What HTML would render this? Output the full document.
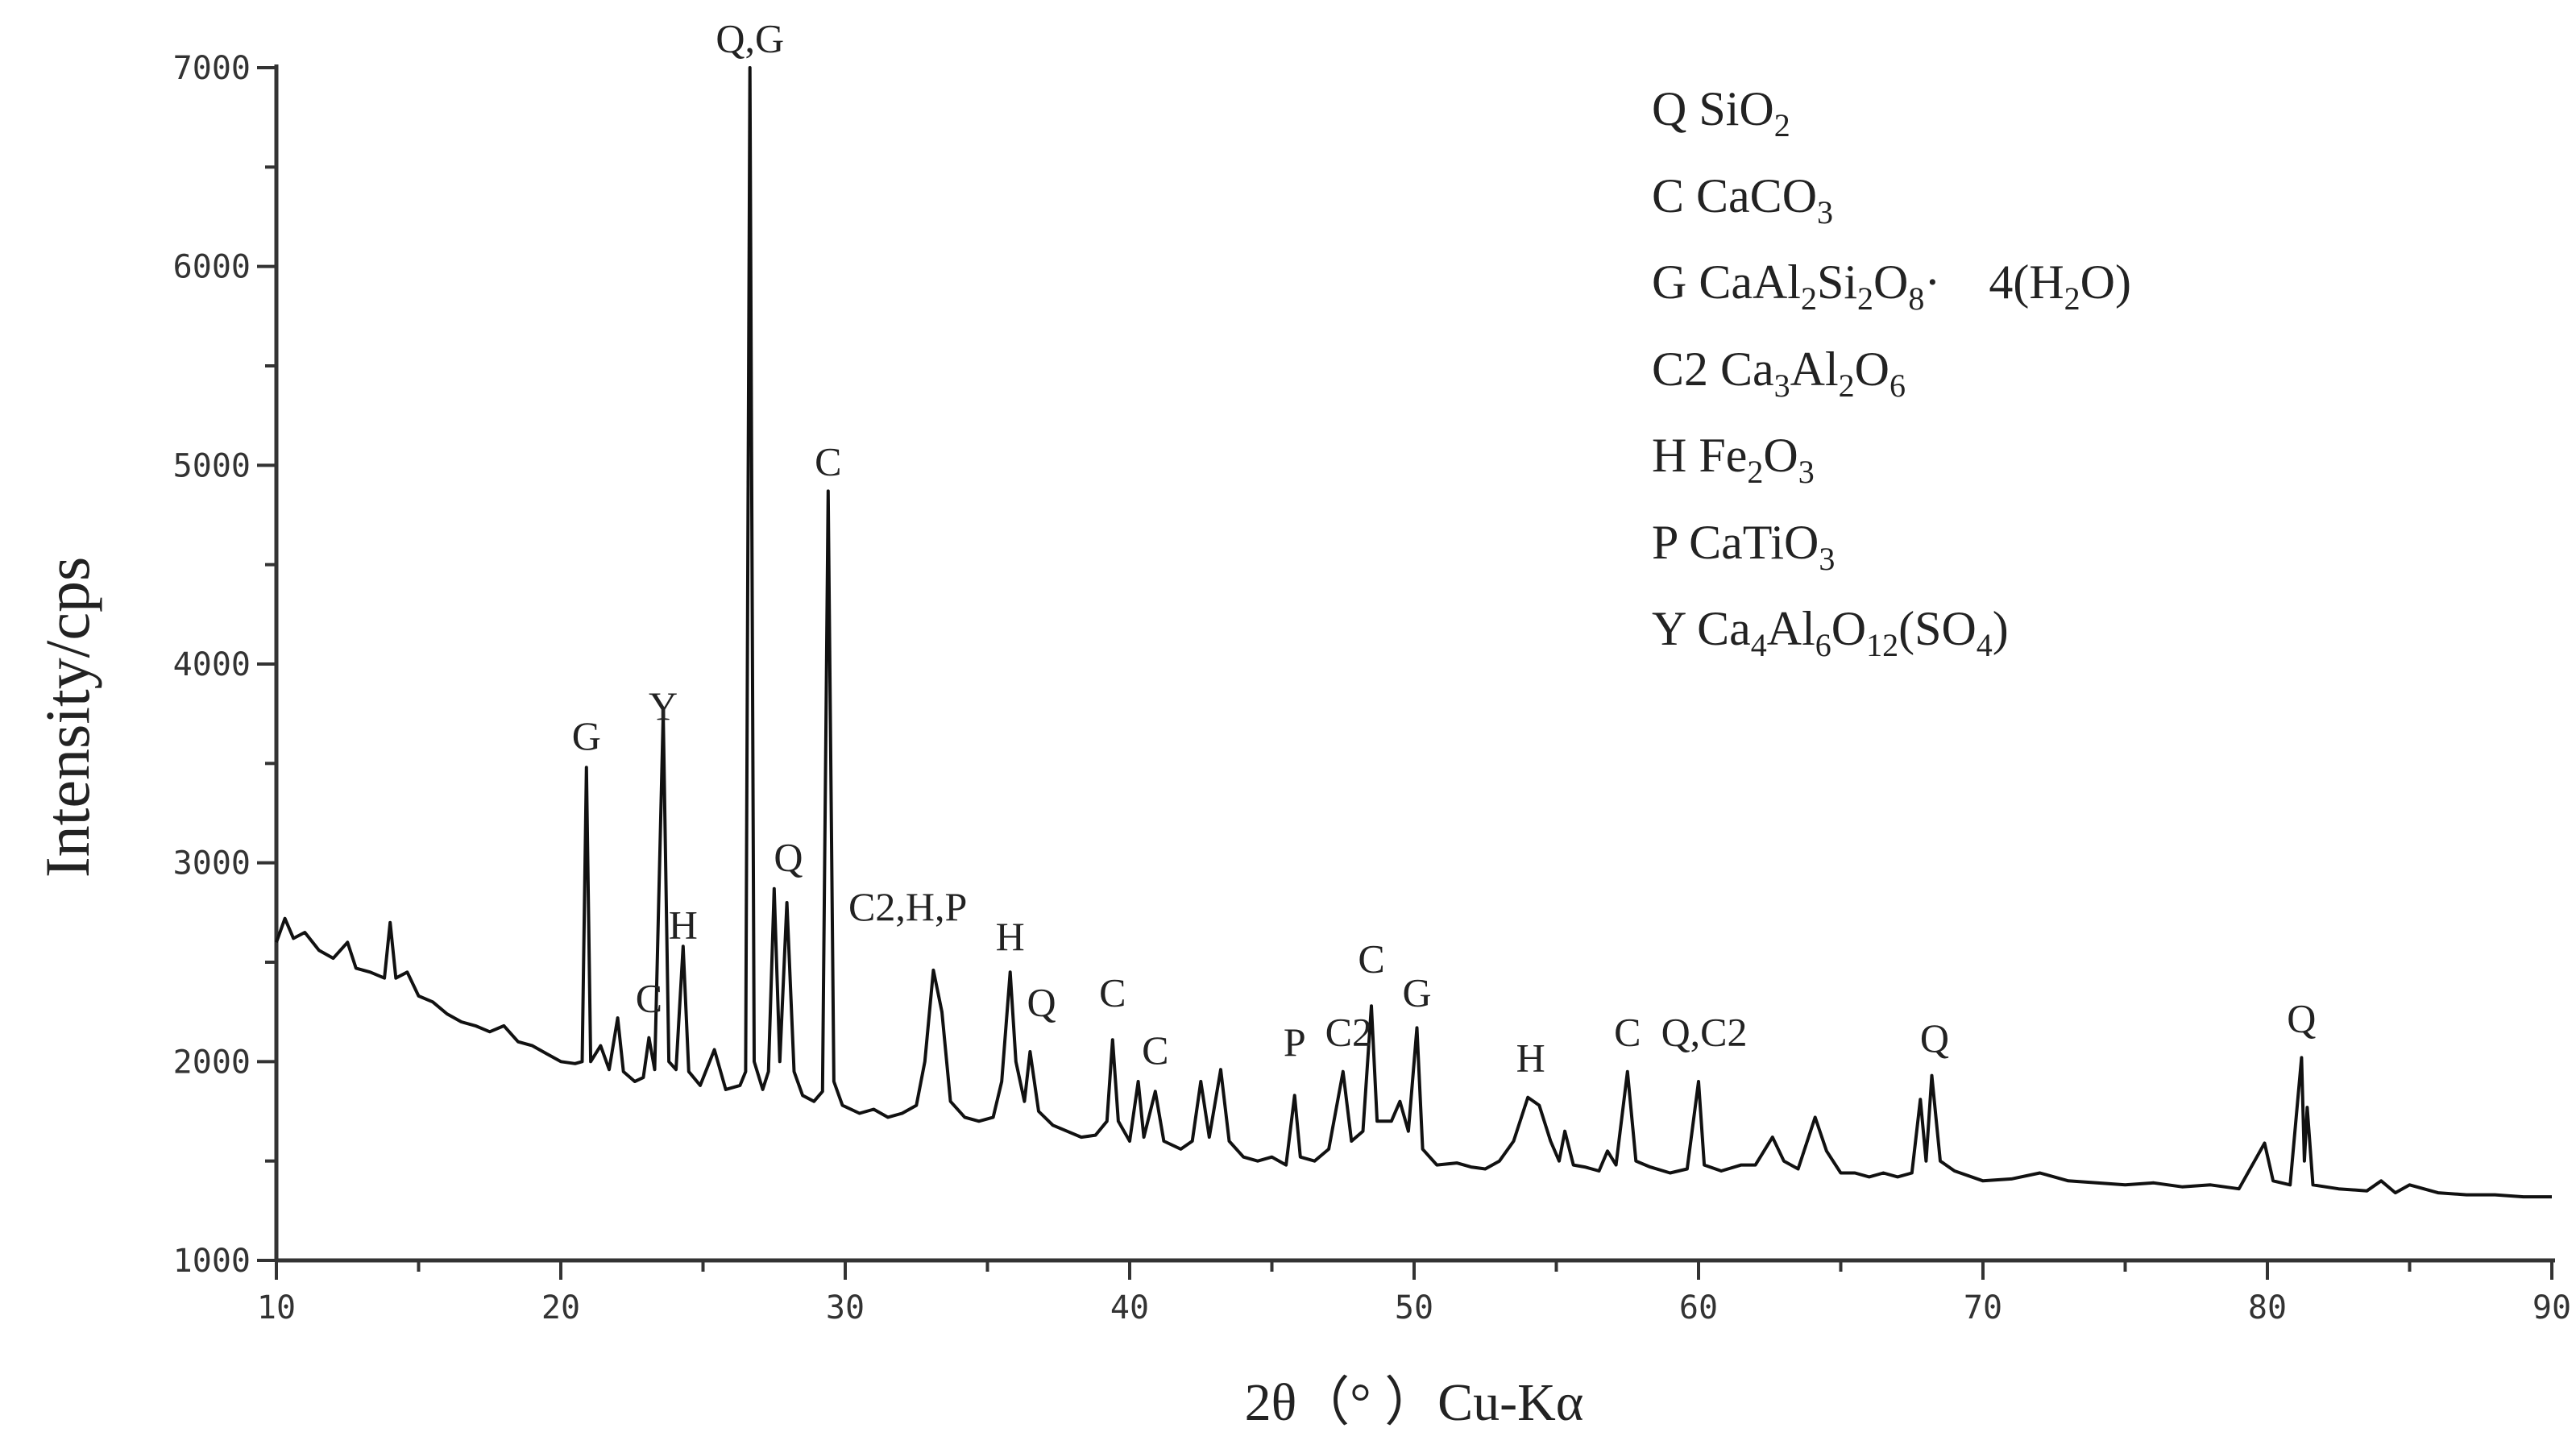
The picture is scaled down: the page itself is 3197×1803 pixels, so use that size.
<!DOCTYPE html>
<html><head><meta charset="utf-8"><style>
html,body{margin:0;padding:0;background:#fff;}
svg{display:block;}
text{font-family:"Liberation Serif",serif;fill:#222;}
.tick{font-family:"DejaVu Sans Mono","Liberation Mono",monospace;font-size:40px;fill:#333;}
.pk{font-size:50px;}
.lg{font-size:60px;}
</style></head><body>
<svg id="chart" width="3197" height="1803" viewBox="0 0 3197 1803" xmlns="http://www.w3.org/2000/svg">
<g id="axes"></g>
<g id="series"></g>
<g id="labels"></g>
<g id="legend">
<text class="lg" x="2050" y="155">Q SiO<tspan font-size="40" dy="14">2</tspan></text>
<text class="lg" x="2050" y="263">C CaCO<tspan font-size="40" dy="14">3</tspan></text>
<text class="lg" x="2050" y="370" xml:space="preserve">G CaAl<tspan font-size="40" dy="14">2</tspan><tspan dy="-14">Si</tspan><tspan font-size="40" dy="14">2</tspan><tspan dy="-14">O</tspan><tspan font-size="40" dy="14">8</tspan><tspan dy="-14">·    4(H</tspan><tspan font-size="40" dy="14">2</tspan><tspan dy="-14">O)</tspan></text>
<text class="lg" x="2050" y="478">C2 Ca<tspan font-size="40" dy="14">3</tspan><tspan dy="-14">Al</tspan><tspan font-size="40" dy="14">2</tspan><tspan dy="-14">O</tspan><tspan font-size="40" dy="14">6</tspan></text>
<text class="lg" x="2050" y="585">H Fe<tspan font-size="40" dy="14">2</tspan><tspan dy="-14">O</tspan><tspan font-size="40" dy="14">3</tspan></text>
<text class="lg" x="2050" y="693">P CaTiO<tspan font-size="40" dy="14">3</tspan></text>
<text class="lg" x="2050" y="800">Y Ca<tspan font-size="40" dy="14">4</tspan><tspan dy="-14">Al</tspan><tspan font-size="40" dy="14">6</tspan><tspan dy="-14">O</tspan><tspan font-size="40" dy="14">12</tspan><tspan dy="-14">(SO</tspan><tspan font-size="40" dy="14">4</tspan><tspan dy="-14">)</tspan></text>
</g>
<text x="110" y="890" font-size="78" text-anchor="middle" transform="rotate(-90 110 890)">Intensity/cps</text>
<text x="1755" y="1762" font-size="66" text-anchor="middle">2θ（°  ）Cu-Kα</text>
</svg>
<script>
const twoTheta=[10.0,10.3,10.6,11.0,11.5,12.0,12.5,12.8,13.3,13.8,14.0,14.2,14.6,15.0,15.5,16.0,16.5,17.0,17.5,18.0,18.5,19.0,19.5,20.0,20.5,20.75,20.9,21.05,21.4,21.7,22.0,22.2,22.6,22.9,23.1,23.3,23.6,23.8,24.05,24.3,24.5,24.9,25.4,25.8,26.3,26.5,26.65,26.8,27.1,27.3,27.5,27.7,27.95,28.2,28.5,28.9,29.2,29.4,29.6,29.9,30.5,31.0,31.5,32.0,32.5,32.8,33.1,33.4,33.7,34.2,34.7,35.2,35.5,35.8,36.0,36.3,36.5,36.8,37.3,37.8,38.3,38.8,39.2,39.4,39.6,40.0,40.3,40.5,40.9,41.2,41.8,42.2,42.5,42.8,43.2,43.5,44.0,44.5,45.0,45.5,45.8,46.0,46.5,47.0,47.5,47.8,48.2,48.5,48.7,49.2,49.5,49.8,50.1,50.3,50.8,51.5,52.0,52.5,53.0,53.5,54.0,54.4,54.8,55.1,55.3,55.6,56.0,56.5,56.8,57.1,57.5,57.8,58.3,59.0,59.6,60.0,60.2,60.8,61.5,62.0,62.6,63.0,63.5,64.1,64.5,65.0,65.5,66.0,66.5,67.0,67.5,67.8,68.0,68.2,68.5,69.0,70.0,71.0,72.0,73.0,74.0,75.0,76.0,77.0,78.0,79.0,79.9,80.2,80.8,81.2,81.3,81.4,81.6,82.5,83.5,84.0,84.5,85.0,86.0,87.0,88.0,89.0,90.0];
const intensity=[2600,2720,2620,2650,2560,2520,2600,2470,2450,2420,2700,2420,2450,2330,2300,2240,2200,2180,2150,2180,2100,2080,2040,2000,1990,2000,3480,2000,2080,1960,2220,1950,1900,1920,2120,1960,3750,2000,1960,2580,1950,1880,2060,1860,1880,1950,7000,2000,1860,1950,2870,2000,2800,1950,1830,1800,1850,4870,1900,1780,1740,1760,1720,1740,1780,2000,2460,2250,1800,1720,1700,1720,1900,2450,2000,1800,2050,1750,1680,1650,1620,1630,1700,2110,1700,1600,1900,1620,1850,1600,1560,1600,1900,1620,1960,1600,1520,1500,1520,1480,1830,1520,1500,1560,1950,1600,1650,2280,1700,1700,1800,1650,2170,1560,1480,1490,1470,1460,1500,1600,1820,1780,1600,1500,1650,1480,1470,1450,1550,1480,1950,1500,1470,1440,1460,1900,1480,1450,1480,1480,1620,1500,1460,1720,1550,1440,1440,1420,1440,1420,1440,1810,1500,1930,1500,1450,1400,1410,1440,1400,1390,1380,1390,1370,1380,1360,1590,1400,1380,2020,1500,1770,1380,1360,1350,1400,1340,1380,1340,1330,1330,1320,1320];
const xTicks=[10,20,30,40,50,60,70,80,90];
const yTicks=[1000,2000,3000,4000,5000,6000,7000];
const peakText=["G","Y","H","C","Q,G","C","Q","C2,H,P","H","Q","C","C","P","C2","C","G","H","C","Q,C2","Q","Q"];
const peakPos=[20.9,23.6,24.3,23.1,26.65,29.4,28.0,32.2,35.8,36.9,39.4,40.9,45.8,47.7,48.5,50.1,54.1,57.5,60.2,68.3,81.2];
const peakLblI=[3570,3720,2620,2250,7080,4950,2960,2710,2560,2230,2280,1990,2030,2080,2450,2280,1950,2080,2080,2050,2150];

const NS="http://www.w3.org/2000/svg";
const X0=343,X1=3167,Y0=1564,Y1=84;
const xs=v=>X0+(v-10)/80*(X1-X0);
const ys=v=>Y0-(v-1000)/6000*(Y0-Y1);
function mk(tag,attrs,parent){const e=document.createElementNS(NS,tag);for(const k in attrs)e.setAttribute(k,attrs[k]);parent.appendChild(e);return e;}
const ax=document.getElementById('axes');
let a=mk('line',{x1:X0,y1:Y0,x2:X1+4,y2:Y0,stroke:'#333','stroke-width':5},ax);


a=mk('line',{x1:X0,y1:Y0+2,x2:X0,y2:Y1-4,stroke:'#333','stroke-width':5},ax);


for(let v=10;v<=90;v+=5){const major=v%10===0;
 const t=mk('line',{x1:xs(v),y1:Y0,x2:xs(v),y2:Y0+(major?24:14),stroke:'#333','stroke-width':4},ax);
 
 }
xTicks.forEach(v=>{const t=mk('text',{x:xs(v),y:Y0+72,'text-anchor':'middle',class:'tick'},ax);t.textContent=v;
 
 });
for(let v=1000;v<=7000;v+=500){const major=v%1000===0;
 const t=mk('line',{x1:X0,y1:ys(v),x2:X0-(major?24:14),y2:ys(v),stroke:'#333','stroke-width':4},ax);
 
 }
yTicks.forEach(v=>{const t=mk('text',{x:X0-32,y:ys(v)+14,'text-anchor':'end',class:'tick'},ax);t.textContent=v;
 
 });
const pts=twoTheta.map((t,i)=>xs(t).toFixed(1)+','+ys(intensity[i]).toFixed(1)).join(' ');
const pl=mk('polyline',{points:pts,fill:'none',stroke:'#111','stroke-width':4,'stroke-linejoin':'round'},document.getElementById('series'));


const lb=document.getElementById('labels');
peakText.forEach((s,i)=>{const t=mk('text',{x:xs(peakPos[i]),y:ys(peakLblI[i]),'text-anchor':'middle',class:'pk'},lb);t.textContent=s;
 
 });
</script>
</body></html>
